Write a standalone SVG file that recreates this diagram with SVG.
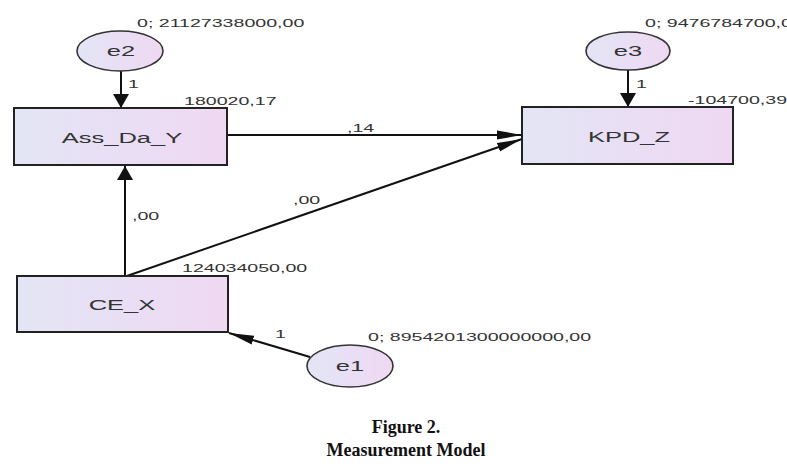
<svg xmlns="http://www.w3.org/2000/svg" width="787" height="466" viewBox="0 0 787 466">
<defs>
<linearGradient id="g" x1="0" y1="0" x2="1" y2="0">
<stop offset="0" stop-color="#e3e5f5"/>
<stop offset="1" stop-color="#efd8f3"/>
</linearGradient>
<marker id="ah" markerWidth="25" markerHeight="10" refX="25" refY="5" orient="auto" markerUnits="userSpaceOnUse" viewBox="0 0 25 10">
<path d="M0,0.5 L25,5 L0,9.5 z" fill="#111"/>
</marker>
<marker id="av" markerWidth="14" markerHeight="16" refX="14" refY="8" orient="auto" markerUnits="userSpaceOnUse" viewBox="0 0 14 16">
<path d="M0,0 L14,8 L0,16 z" fill="#111"/>
</marker>
</defs>
<style>
.box{fill:url(#g);stroke:#222;stroke-width:2}
.ell{fill:url(#g);stroke:#333;stroke-width:1.6}
.lbl{font-family:"Liberation Sans",Arial,sans-serif;font-size:15px;fill:#333;text-anchor:middle}
.num{font-family:"Liberation Sans",Arial,sans-serif;font-size:11px;fill:#333}
.edge{stroke:#111;stroke-width:2;fill:none}
.cap{font-family:"Liberation Serif","Times New Roman",serif;font-size:18px;font-weight:bold;fill:#111;text-anchor:middle}
</style>
<rect width="787" height="466" fill="#fff"/>
<g id="connectors">
<line class="edge" x1="121" y1="71" x2="121" y2="108" marker-end="url(#av)"/>
<line class="edge" x1="628" y1="70" x2="628" y2="107" marker-end="url(#av)"/>
<line class="edge" x1="227" y1="135" x2="522" y2="135" marker-end="url(#ah)"/>
<line class="edge" x1="124" y1="277" x2="522" y2="139" marker-end="url(#ah)"/>
<line class="edge" x1="125" y1="277" x2="125" y2="166" marker-end="url(#av)"/>
<line class="edge" x1="310" y1="357" x2="229" y2="333" marker-end="url(#ah)"/>
<text class="num" transform="translate(128,88) scale(1.78,1)">1</text>
<text class="num" transform="translate(636,88) scale(1.78,1)">1</text>
<text class="num" transform="translate(347,132) scale(1.78,1)">,14</text>
<text class="num" transform="translate(293,204) scale(1.78,1)">,00</text>
<text class="num" transform="translate(132,220) scale(1.78,1)">,00</text>
<text class="num" transform="translate(275,338) scale(1.78,1)">1</text>
</g>
<g id="e2">
<ellipse class="ell" cx="120" cy="51" rx="43" ry="20"/>
<text class="lbl" transform="translate(121,56) scale(1.7,1)">e2</text>
<text class="num" transform="translate(137,27) scale(1.78,1)">0; 21127338000,00</text>
</g>
<g id="e3">
<ellipse class="ell" cx="628" cy="51" rx="42" ry="19"/>
<text class="lbl" transform="translate(628,56) scale(1.7,1)">e3</text>
<text class="num" transform="translate(645,27) scale(1.78,1)">0; 9476784700,00</text>
</g>
<g id="Ass_Da_Y">
<rect class="box" x="14" y="108" width="213" height="57"/>
<text class="lbl" transform="translate(122,143) scale(1.7,1)">Ass_Da_Y</text>
<text class="num" transform="translate(184,105) scale(1.78,1)">180020,17</text>
</g>
<g id="KPD_Z">
<rect class="box" x="522" y="107" width="211" height="57"/>
<text class="lbl" transform="translate(629,142) scale(1.7,1)">KPD_Z</text>
<text class="num" transform="translate(688,104) scale(1.78,1)">-104700,39</text>
</g>
<g id="CE_X">
<rect class="box" x="17" y="276" width="211" height="56"/>
<text class="lbl" transform="translate(122,310) scale(1.7,1)">CE_X</text>
<text class="num" transform="translate(182,272) scale(1.78,1)">124034050,00</text>
</g>
<g id="e1">
<ellipse class="ell" cx="350" cy="366" rx="43" ry="21"/>
<text class="lbl" transform="translate(350,371) scale(1.7,1)">e1</text>
<text class="num" transform="translate(368,341) scale(1.78,1)">0; 8954201300000000,00</text>
</g>
<g id="caption">
<text class="cap" x="406" y="433">Figure 2.</text>
<text class="cap" x="406" y="456">Measurement Model</text>
</g>
</svg>
